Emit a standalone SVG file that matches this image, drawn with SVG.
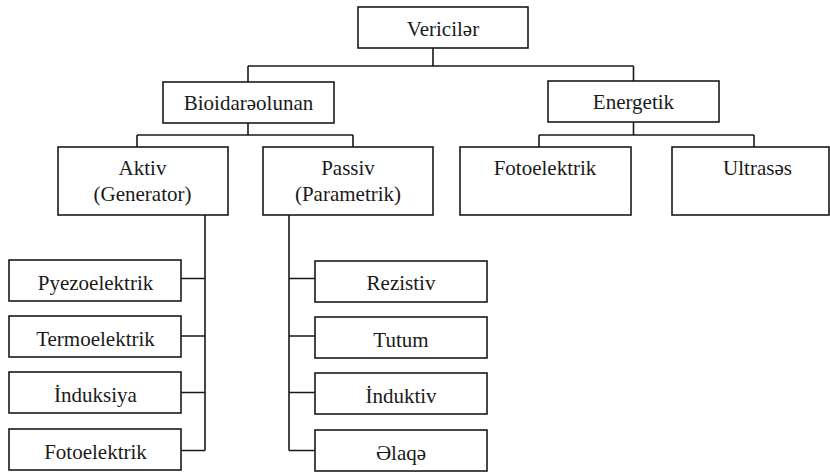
<svg xmlns="http://www.w3.org/2000/svg" width="830" height="473" viewBox="0 0 830 473">
<style>
rect{fill:#fff;stroke:#1a1a1a;stroke-width:1.6}
text{font-family:"Liberation Serif","Times New Roman",serif;font-size:21px;fill:#1a1a1a;text-anchor:middle}
.c{fill:none;stroke:#1a1a1a;stroke-width:1.6}
</style>
<rect x="0" y="0" width="830" height="473" style="fill:#fff;stroke:none"/>
<g id="connectors" class="c">
<path d="M433,48V66M248,66H633.5M248,66V82M633.5,66V81"/>
<path d="M248,123V135M137,135H353M137,135V147M353,135V147"/>
<path d="M633.5,122V135M539,135H754M539,135V147M754,135V147"/>
<path d="M205,215V450.5M181,278.5H205M181,336H205M181,392.5H205M181,450.5H205"/>
<path d="M289,215V450.5M289,278.5H315M289,336H315M289,392.5H315M289,450.5H315"/>
</g>
<g id="vericiler"><rect x="358" y="7" width="170" height="41"/><text x="443" y="36">Vericilər</text></g>
<g id="bioidare"><rect x="163" y="82" width="171" height="41"/><text x="248.5" y="110">Bioidarəolunan</text></g>
<g id="energetik"><rect x="548" y="81" width="171" height="41"/><text x="633.5" y="109">Energetik</text></g>
<g id="aktiv"><rect x="58" y="147" width="170" height="68"/><text x="142.5" y="175">Aktiv</text><text x="142.5" y="201">(Generator)</text></g>
<g id="passiv"><rect x="263" y="147" width="170" height="68"/><text x="348" y="175">Passiv</text><text x="348" y="201">(Parametrik)</text></g>
<g id="fotoelektrik-e"><rect x="460" y="147" width="171" height="68"/><text x="545" y="175">Fotoelektrik</text></g>
<g id="ultrases"><rect x="672" y="147" width="157" height="68"/><text x="757.5" y="175">Ultrasəs</text></g>
<g id="pyezo"><rect x="9" y="260" width="172" height="41"/><text x="95.5" y="289.5">Pyezoelektrik</text></g>
<g id="termo"><rect x="9" y="316" width="172" height="41"/><text x="95.5" y="345.5">Termoelektrik</text></g>
<g id="induksiya"><rect x="9" y="372" width="172" height="41"/><text x="95.5" y="401.5">İnduksiya</text></g>
<g id="fotoelektrik-a"><rect x="9" y="429" width="172" height="41"/><text x="95.5" y="459">Fotoelektrik</text></g>
<g id="rezistiv"><rect x="315" y="261" width="172" height="41"/><text x="401" y="290">Rezistiv</text></g>
<g id="tutum"><rect x="315" y="317" width="172" height="41"/><text x="401" y="346.5">Tutum</text></g>
<g id="induktiv"><rect x="315" y="373" width="172" height="41"/><text x="401" y="403">İnduktiv</text></g>
<g id="elaqe"><rect x="315" y="430" width="172" height="41"/><text x="401" y="459.5">Əlaqə</text></g>
</svg>
